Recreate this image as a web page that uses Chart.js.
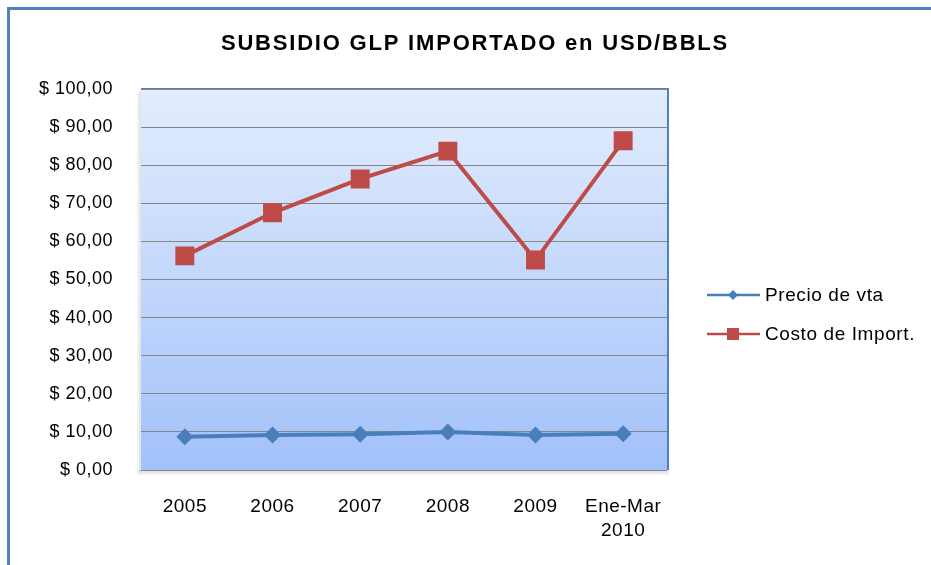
<!DOCTYPE html>
<html>
<head>
<meta charset="utf-8">
<script src="https://cdn.jsdelivr.net/npm/chart.js@4/dist/chart.umd.min.js"></script>
<style>
  html, body { margin: 0; padding: 0; background: #ffffff; }
  #wrap { width: 931px; height: 565px; position: relative; }
</style>
</head>
<body>
<div id="wrap"><canvas id="c" width="931" height="565"></canvas></div>
<script>
const chartTitle = "SUBSIDIO GLP IMPORTADO en USD/BBLS";
const categories = ["2005", "2006", "2007", "2008", "2009", ["Ene-Mar", "2010"]];
const seriesNames = ["Precio de vta", "Costo de Import."];
const precioVenta = [8.7, 9.2, 9.4, 10.0, 9.2, 9.5];
const costoImport = [56.2, 67.5, 76.4, 83.7, 55.1, 86.4];
const yTicks = [0, 10, 20, 30, 40, 50, 60, 70, 80, 90, 100];

const FONT = "'Liberation Sans', Arial, sans-serif";
const BLUE = "#4a7ebb";
const RED = "#be4b48";

function fmtMoney(v) {
  return "$ " + v.toFixed(2).replace(".", ",");
}

const framePlugin = {
  id: "frame",
  beforeDraw(chart) {
    const ctx = chart.ctx;
    const a = chart.chartArea;
    ctx.save();
    ctx.fillStyle = "#ffffff";
    ctx.fillRect(0, 0, chart.width, chart.height);
    // outer frame (top and left visible)
    ctx.fillStyle = "#4f81bd";
    ctx.fillRect(7, 7, chart.width - 7, 3);
    ctx.fillRect(7, 7, 3, chart.height - 7);
    // plot shadow
    ctx.fillStyle = "rgba(0,0,0,0.10)";
    ctx.fillRect(a.left - 2, a.top + 2, 2, a.bottom - a.top);
    ctx.fillRect(a.left - 2, a.bottom, a.right - a.left + 4, 3);
    ctx.fillStyle = "rgba(0,0,0,0.05)";
    ctx.fillRect(a.left - 4, a.top + 4, 2, a.bottom - a.top);
    ctx.fillRect(a.left - 4, a.bottom + 3, a.right - a.left + 6, 2);
    // plot gradient
    const g = ctx.createLinearGradient(0, a.top, 0, a.bottom);
    g.addColorStop(0, "#e3edfd");
    g.addColorStop(1, "#a2c1fa");
    ctx.fillStyle = g;
    ctx.fillRect(a.left, a.top, a.right - a.left, a.bottom - a.top);
    // plot border: thin top, thicker right
    ctx.fillStyle = "#4f81bd";
    ctx.fillRect(a.left, a.top - 1, a.right - a.left, 1);
    ctx.fillRect(a.right, a.top - 1, 2, a.bottom - a.top + 1);
    ctx.restore();
    // slight letter spacing for axis tick labels
    ctx.letterSpacing = "0.5px";
  },
  afterDraw(chart) {
    const ctx = chart.ctx;
    ctx.save();
    // title
    ctx.fillStyle = "#000000";
    ctx.font = "bold 22px " + FONT;
    ctx.letterSpacing = "1.8px";
    ctx.textAlign = "center";
    ctx.textBaseline = "middle";
    ctx.fillText(chartTitle, 475, 44);
    // legend
    const items = chart.data.datasets;
    const ys = [295, 334];
    items.forEach((ds, i) => {
      const y = ys[i];
      ctx.strokeStyle = ds.borderColor;
      ctx.lineWidth = 2.5;
      ctx.beginPath();
      ctx.moveTo(707, y);
      ctx.lineTo(760, y);
      ctx.stroke();
      ctx.fillStyle = ds.backgroundColor;
      if (ds.pointStyle === "rect") {
        ctx.fillRect(727, y - 6, 12, 12);
      } else {
        ctx.beginPath();
        ctx.moveTo(733, y - 5);
        ctx.lineTo(738, y);
        ctx.lineTo(733, y + 5);
        ctx.lineTo(728, y);
        ctx.closePath();
        ctx.fill();
      }
      ctx.fillStyle = "#000000";
      ctx.font = "19px " + FONT;
      ctx.letterSpacing = "0.6px";
      ctx.textAlign = "left";
      ctx.textBaseline = "middle";
      ctx.fillText(ds.label, 765, y + 1);
    });
    ctx.restore();
    ctx.letterSpacing = "0px";
  }
};

new Chart(document.getElementById("c"), {
  type: "line",
  data: {
    labels: categories,
    datasets: [
      {
        label: seriesNames[0],
        data: precioVenta,
        borderColor: BLUE,
        backgroundColor: BLUE,
        borderWidth: 4,
        pointStyle: "rectRot",
        pointRadius: 8.5,
        pointHoverRadius: 8.5,
        pointBorderWidth: 0,
        tension: 0
      },
      {
        label: seriesNames[1],
        data: costoImport,
        borderColor: RED,
        backgroundColor: RED,
        borderWidth: 4,
        pointStyle: "rect",
        pointRadius: 13.4,
        pointHoverRadius: 13.4,
        pointBorderWidth: 0,
        tension: 0
      }
    ]
  },
  options: {
    responsive: false,
    animation: false,
    devicePixelRatio: 1,
    layout: { padding: { top: 89, right: 264, left: 0, bottom: 0 } },
    plugins: {
      legend: { display: false },
      title: { display: false },
      tooltip: { enabled: false }
    },
    scales: {
      x: {
        offset: true,
        grid: { display: false, drawTicks: false },
        border: { display: false },
        ticks: {
          color: "#000000",
          font: { family: FONT, size: 19, lineHeight: 1.25 },
          padding: 25,
          maxRotation: 0,
          autoSkip: false
        },
        afterFit(s) { s.height = 95; }
      },
      y: {
        min: 0,
        max: 100,
        afterBuildTicks(s) { s.ticks = yTicks.map(v => ({ value: v })); },
        grid: { color: "#868686", lineWidth: 1, drawTicks: false },
        border: { display: false },
        ticks: {
          color: "#000000",
          font: { family: FONT, size: 18 },
          padding: 28,
          callback: (v) => fmtMoney(v)
        },
        afterFit(s) { s.width = 141; }
      }
    }
  },
  plugins: [framePlugin]
});
</script>
</body>
</html>
